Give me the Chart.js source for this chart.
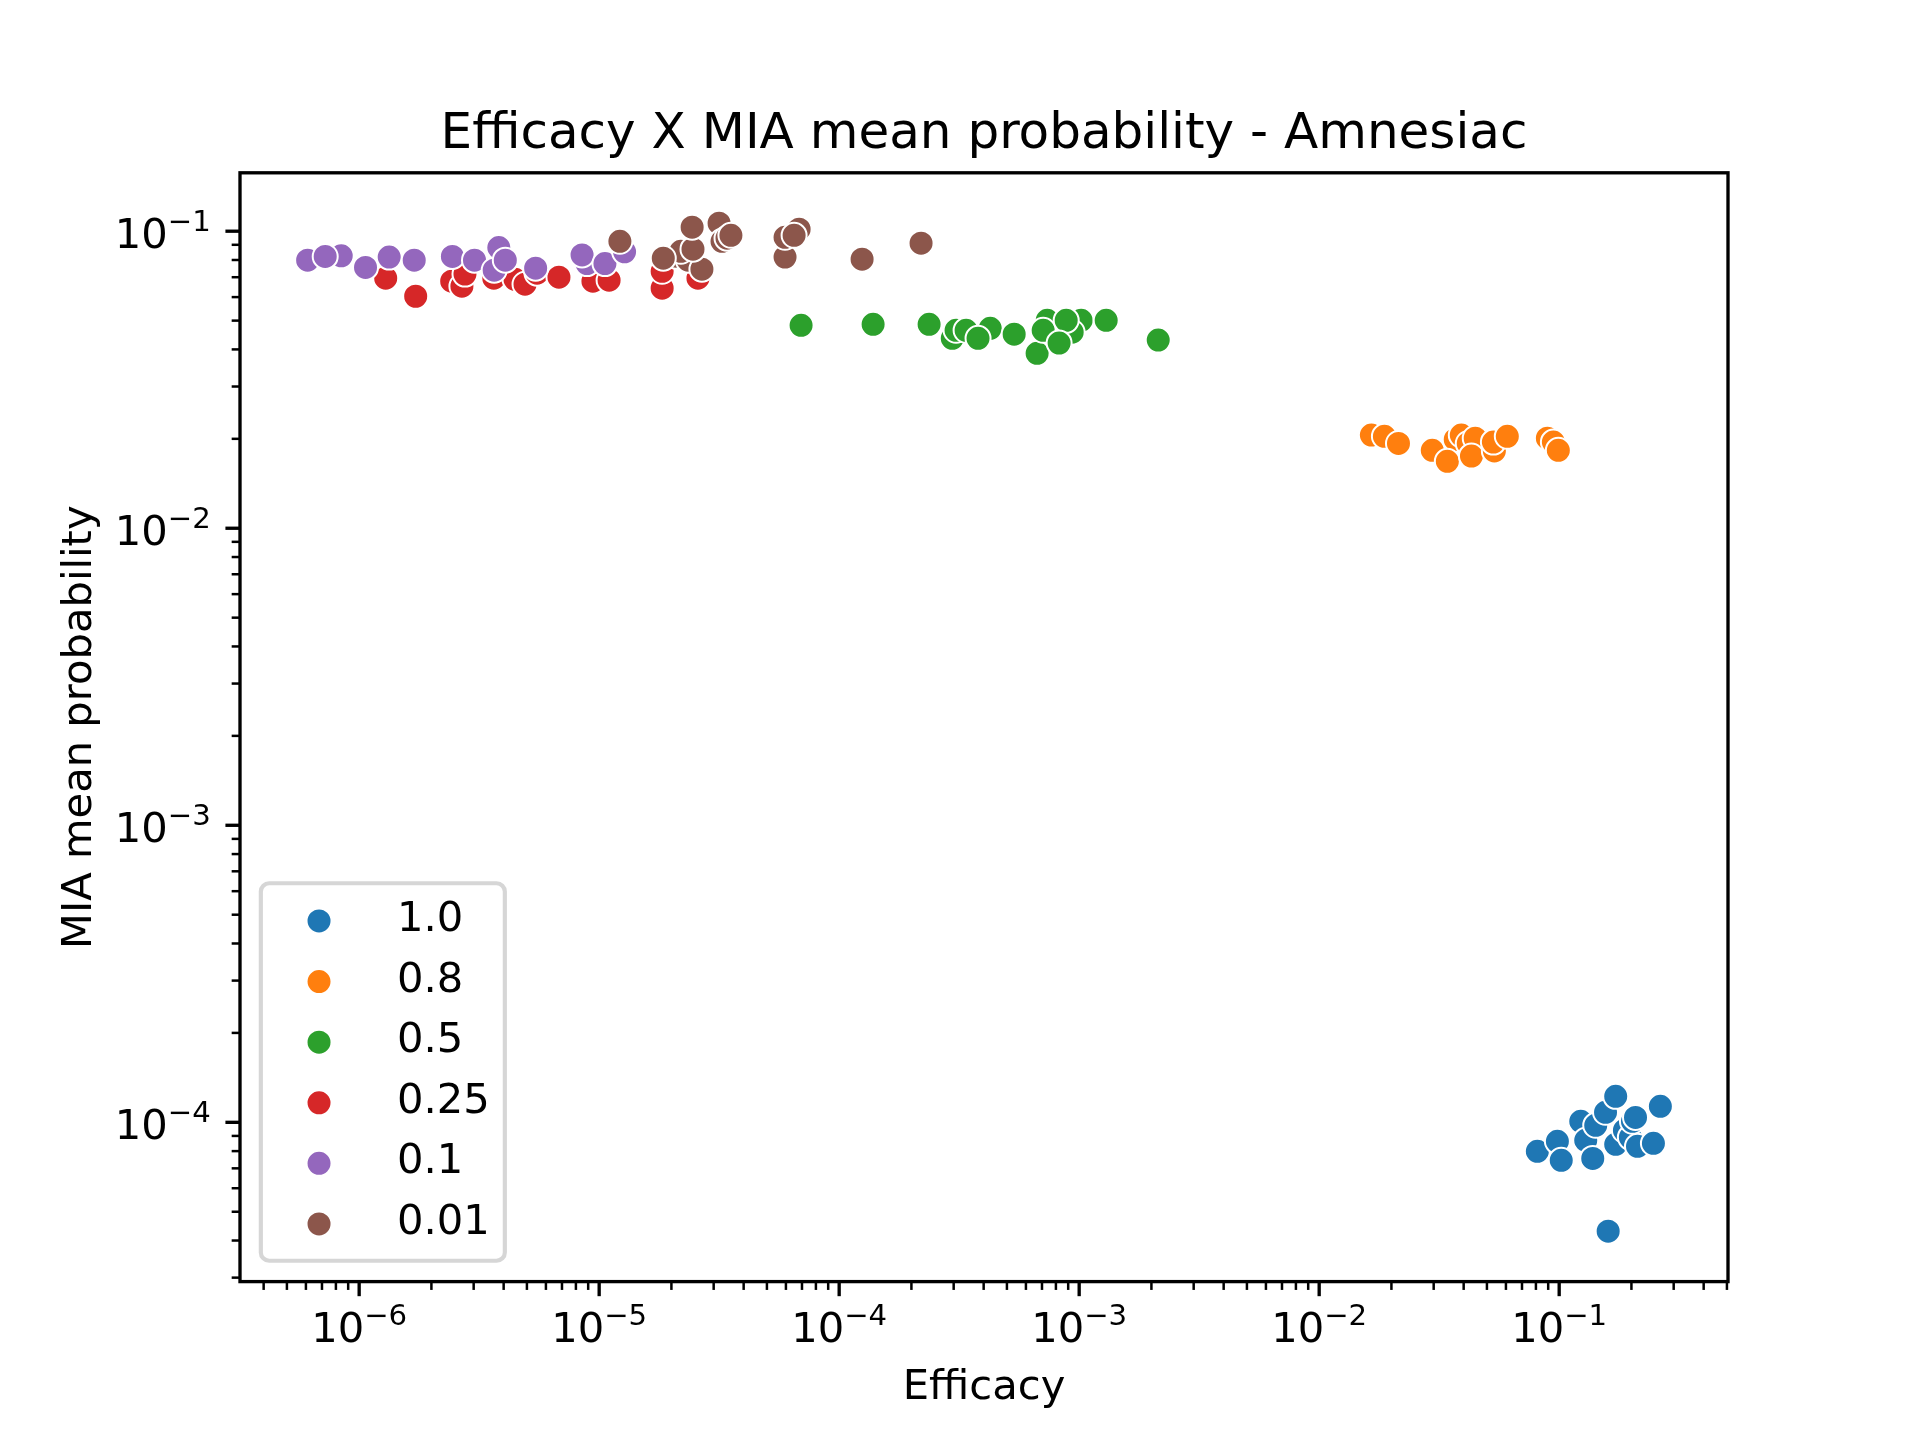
<!DOCTYPE html>
<html>
<head>
<meta charset="utf-8">
<title>Efficacy X MIA mean probability - Amnesiac</title>
<script src="https://cdn.jsdelivr.net/npm/chart.js@4.4.1/dist/chart.umd.min.js"></script>
<style>
  html, body { margin: 0; padding: 0; background: #fff; }
  canvas { display: block; }
</style>
</head>
<body>
<canvas id="chart" width="1920" height="1440"></canvas>
<script>
// Values: one efficacy / MIA pair of arrays per hue level.
const hueLabels = ['1.0', '0.8', '0.5', '0.25', '0.1', '0.01'];
const hueColors = ['#1f77b4', '#ff7f0e', '#2ca02c', '#d62728', '#9467bd', '#8c564b'];

const effHue100 = [0.0811, 0.0983, 0.102, 0.123, 0.129, 0.142, 0.138, 0.156, 0.172, 0.172, 0.187, 0.198, 0.202, 0.208, 0.212, 0.247, 0.264, 0.160];
const miaHue100 = [7.99e-5, 8.63e-5, 7.45e-5, 1.008e-4, 8.70e-5, 9.77e-5, 7.56e-5, 1.081e-4, 1.223e-4, 8.43e-5, 9.40e-5, 8.90e-5, 1.008e-4, 1.039e-4, 8.30e-5, 8.50e-5, 1.132e-4, 4.30e-5];

const effHue080 = [0.0165, 0.0187, 0.0214, 0.0296, 0.0369, 0.0391, 0.0418, 0.0447, 0.0342, 0.0431, 0.0537, 0.0532, 0.0608, 0.0893, 0.0946, 0.0992];
const miaHue080 = [0.0206, 0.0204, 0.0193, 0.0183, 0.0199, 0.0206, 0.0193, 0.0201, 0.0168, 0.0175, 0.0182, 0.0195, 0.0204, 0.0201, 0.0195, 0.0183];

const effHue050 = [6.94e-5, 1.385e-4, 2.37e-4, 2.96e-4, 3.07e-4, 4.26e-4, 3.38e-4, 3.79e-4, 5.36e-4, 6.68e-4, 7.36e-4, 7.08e-4, 1.019e-3, 9.35e-4, 8.83e-4, 8.25e-4, 1.296e-3, 2.135e-3];
const miaHue050 = [0.0482, 0.0486, 0.0486, 0.0436, 0.0464, 0.0471, 0.0464, 0.0436, 0.0450, 0.0388, 0.0501, 0.0464, 0.0501, 0.0457, 0.0501, 0.0420, 0.0501, 0.0430];

const effHue025 = [1.29e-6, 1.72e-6, 2.43e-6, 2.68e-6, 2.76e-6, 3.64e-6, 4.46e-6, 4.91e-6, 5.51e-6, 6.80e-6, 9.42e-6, 1.10e-5, 1.83e-5, 1.83e-5, 2.58e-5];
const miaHue025 = [0.0695, 0.0604, 0.0679, 0.0653, 0.0717, 0.0695, 0.0689, 0.0663, 0.0722, 0.0700, 0.0679, 0.0684, 0.0643, 0.0733, 0.0695];

const effHue010 = [6.10e-7, 8.42e-7, 7.22e-7, 1.063e-6, 1.334e-6, 1.696e-6, 2.446e-6, 3.024e-6, 3.653e-6, 3.818e-6, 4.064e-6, 5.437e-6, 8.90e-6, 8.487e-6, 1.057e-5, 1.276e-5];
const miaHue010 = [0.0799, 0.0826, 0.0822, 0.0755, 0.0818, 0.0799, 0.0822, 0.0799, 0.0739, 0.0881, 0.0799, 0.0751, 0.0778, 0.0832, 0.0778, 0.0852];

const effHue001 = [1.22e-5, 2.09e-5, 2.35e-5, 2.19e-5, 1.85e-5, 2.68e-5, 2.46e-5, 2.44e-5, 3.16e-5, 3.25e-5, 3.41e-5, 3.54e-5, 6.81e-5, 5.95e-5, 5.95e-5, 6.49e-5, 1.246e-4, 2.194e-4];
const miaHue001 = [0.0925, 0.0824, 0.0799, 0.0856, 0.0811, 0.0745, 0.0870, 0.1032, 0.1064, 0.0925, 0.0947, 0.0969, 0.1016, 0.0818, 0.0954, 0.0969, 0.0805, 0.0911];

const effSeries = [effHue100, effHue080, effHue050, effHue025, effHue010, effHue001];
const miaSeries = [miaHue100, miaHue080, miaHue050, miaHue025, miaHue010, miaHue001];

// Major tick labels are 10^exp.
const xTickExps = [-6, -5, -4, -3, -2, -1];
const yTickExps = [-4, -3, -2, -1];

const titleText = 'Efficacy X MIA mean probability - Amnesiac';
const xTitle = 'Efficacy';
const yTitle = 'MIA mean probability';

// matplotlib-like sizing at 300 dpi
const PT = 300 / 72;
const FONT = '"DejaVu Sans", "Liberation Sans", sans-serif';
const FS = 10 * PT;          // tick / label / legend font
const SUP = FS * 0.7;        // superscript exponent
const MARKER_R = 3 * PT;     // s=36 -> 6pt diameter
const EDGE = 0.48 * PT;      // seaborn white edge

// 5% margins in log space, like matplotlib autoscaling
function logLimits(values) {
  const lo = Math.log10(Math.min(...values));
  const hi = Math.log10(Math.max(...values));
  const m = (hi - lo) * 0.05;
  return { min: Math.pow(10, lo - m), max: Math.pow(10, hi + m) };
}

function decadeTicks(min, max) {
  const out = [];
  for (let e = Math.floor(Math.log10(min)); e <= Math.ceil(Math.log10(max)); e++) {
    for (let s = 1; s <= 9; s++) {
      const v = s * Math.pow(10, e);
      if (v >= min && v <= max) out.push({ v, major: s === 1 });
    }
  }
  return out;
}

function drawPow(ctx, exp, x, baseY, align) {
  const base = '10';
  const sup = '\u2212' + Math.abs(exp);
  ctx.font = `${FS}px ${FONT}`;
  const wb = ctx.measureText(base).width;
  ctx.font = `${SUP}px ${FONT}`;
  const ws = ctx.measureText(sup).width;
  const left = align === 'center' ? x - (wb + ws) / 2 : x - (wb + ws);
  ctx.textAlign = 'left';
  ctx.textBaseline = 'alphabetic';
  ctx.font = `${FS}px ${FONT}`;
  ctx.fillText(base, left, baseY);
  ctx.font = `${SUP}px ${FONT}`;
  ctx.fillText(sup, left + wb, baseY - 17);
}

// Frame, log ticks, tick labels, axis titles and the figure title.
const mplAxes = {
  id: 'mplAxes',
  afterDraw(chart) {
    const { ctx, chartArea: a, scales: { x, y } } = chart;
    ctx.save();
    ctx.strokeStyle = '#000';
    ctx.fillStyle = '#000';

    decadeTicks(x.min, x.max).forEach((t) => {
      const px = x.getPixelForValue(t.v);
      ctx.lineWidth = t.major ? 0.8 * PT : 0.6 * PT;
      ctx.beginPath();
      ctx.moveTo(px, a.bottom);
      ctx.lineTo(px, a.bottom + (t.major ? 3.5 : 2) * PT);
      ctx.stroke();
    });
    decadeTicks(y.min, y.max).forEach((t) => {
      const py = y.getPixelForValue(t.v);
      ctx.lineWidth = t.major ? 0.8 * PT : 0.6 * PT;
      ctx.beginPath();
      ctx.moveTo(a.left, py);
      ctx.lineTo(a.left - (t.major ? 3.5 : 2) * PT, py);
      ctx.stroke();
    });

    ctx.lineWidth = 0.8 * PT;
    ctx.strokeRect(a.left, a.top, a.right - a.left, a.bottom - a.top);

    xTickExps.forEach((e) => drawPow(ctx, e, x.getPixelForValue(Math.pow(10, e)), a.bottom + 60, 'center'));
    yTickExps.forEach((e) => drawPow(ctx, e, a.left - 7 * PT, y.getPixelForValue(Math.pow(10, e)) + 16.5, 'right'));

    ctx.textAlign = 'center';
    ctx.textBaseline = 'alphabetic';
    ctx.font = `${FS}px ${FONT}`;
    ctx.fillText(xTitle, (a.left + a.right) / 2, a.bottom + 117);
    ctx.save();
    ctx.translate(a.left - 149, (a.top + a.bottom) / 2);
    ctx.rotate(-Math.PI / 2);
    ctx.fillText(yTitle, 0, 0);
    ctx.restore();

    ctx.font = `${12 * PT}px ${FONT}`;
    ctx.fillText(titleText, (a.left + a.right) / 2, a.top - 6 * PT);
    ctx.restore();
  },
};

// Legend box in the lower-left corner, drawn the matplotlib way.
const mplLegend = {
  id: 'mplLegend',
  afterDraw(chart) {
    const { ctx, chartArea: a } = chart;
    const w = 244, h = 377.5;
    const left = a.left + 0.5 * FS;
    const top = a.bottom - 0.5 * FS - h;
    ctx.save();
    ctx.beginPath();
    ctx.roundRect(left, top, w, h, 0.2 * FS);
    ctx.fillStyle = 'rgba(255,255,255,0.8)';
    ctx.fill();
    ctx.lineWidth = 1 * PT;
    ctx.strokeStyle = 'rgba(204,204,204,0.8)';
    ctx.stroke();

    ctx.font = `${FS}px ${FONT}`;
    ctx.textAlign = 'left';
    ctx.textBaseline = 'alphabetic';
    hueLabels.forEach((label, i) => {
      const cy = top + 37.7 + i * 60.6;
      ctx.beginPath();
      ctx.arc(left + 58.2, cy, MARKER_R, 0, Math.PI * 2);
      ctx.fillStyle = hueColors[i];
      ctx.fill();
      ctx.lineWidth = EDGE;
      ctx.strokeStyle = '#fff';
      ctx.stroke();
      ctx.fillStyle = '#000';
      ctx.fillText(label, left + 136.2, cy + 10);
    });
    ctx.restore();
  },
};

const xLim = logLimits(effSeries.flat());
const yLim = logLimits(miaSeries.flat());

const datasets = hueLabels.map((label, i) => ({
  label,
  data: effSeries[i].map((v, j) => ({ x: v, y: miaSeries[i][j] })),
  backgroundColor: hueColors[i],
  borderColor: '#ffffff',
  borderWidth: EDGE,
  pointRadius: MARKER_R,
  pointHoverRadius: MARKER_R,
  // later hue levels sit on top, as in the seaborn plot
  order: hueLabels.length - i,
}));

new Chart(document.getElementById('chart'), {
  type: 'scatter',
  data: { datasets },
  options: {
    responsive: false,
    animation: false,
    devicePixelRatio: 1,
    events: [],
    layout: { padding: { top: 1440 * 0.12, right: 1920 * 0.1, bottom: 0, left: 0 } },
    scales: {
      x: {
        type: 'logarithmic', min: xLim.min, max: xLim.max,
        grid: { display: false }, border: { display: false }, ticks: { display: false },
        afterFit(scale) { scale.height = 1440 * 0.11; },
      },
      y: {
        type: 'logarithmic', min: yLim.min, max: yLim.max,
        grid: { display: false }, border: { display: false }, ticks: { display: false },
        afterFit(scale) { scale.width = 1920 * 0.125; },
      },
    },
    plugins: { legend: { display: false }, tooltip: { enabled: false }, title: { display: false } },
  },
  plugins: [mplAxes, mplLegend],
});
</script>
</body>
</html>
